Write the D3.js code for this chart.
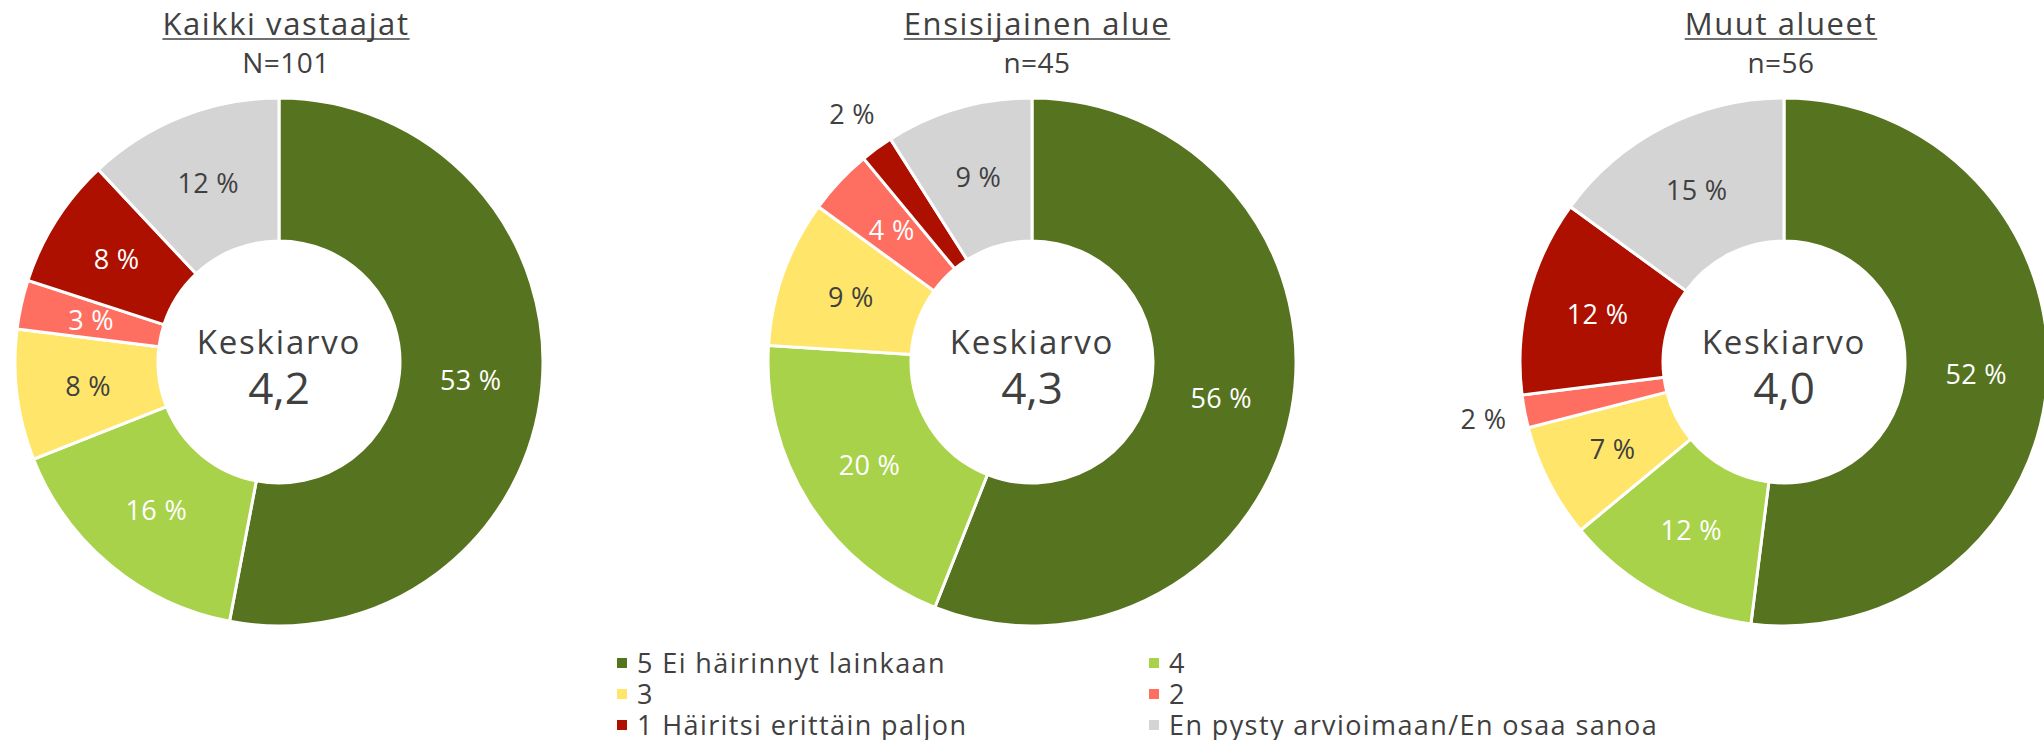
<!DOCTYPE html>
<html>
<head>
<meta charset="utf-8">
<script src="https://cdn.jsdelivr.net/npm/d3@7"></script>
<style>
  html, body { margin: 0; padding: 0; background: #fff; }
  svg { display: block; font-family: "Open Sans", sans-serif; }
</style>
</head>
<body>
<div id="chart"></div>
<script>
// Three donuts (all / primary area / other areas), shared legend underneath.

const categories = ['5 Ei häirinnyt lainkaan', '4', '3', '2', '1 Häiritsi erittäin paljon', 'En pysty arvioimaan/En osaa sanoa'];
const groups = ['Kaikki vastaajat', 'Ensisijainen alue', 'Muut alueet'];
const groupN = ['N=101', 'n=45', 'n=56'];
const means = ['4,2', '4,3', '4,0'];
const sharesAll = [53, 16, 8, 3, 8, 12];
const sharesPrimary = [56, 20, 9, 4, 2, 9];
const sharesOther = [52, 12, 7, 2, 12, 15];

const COLORS = ['#567320', '#a8d24a', '#ffe66b', '#ff6f61', '#ae1000', '#d4d4d4'];
const LABEL_INK = ['#fff', '#fff', '#404040', '#fff', '#fff', '#404040'];
const INK = '#404040';

const W = 2044, H = 740;
const cy = 362, rOuter = 264, rInner = 121;
const centers = [279, 1032, 1784];
const headX = [286, 1037, 1781];

const svg = d3.select('#chart').append('svg').attr('width', W).attr('height', H);

const pie = d3.pie().sort(null).value((d) => d);
const arc = d3.arc().innerRadius(rInner).outerRadius(rOuter);
const mid = d3.arc().innerRadius((rInner + rOuter) / 2).outerRadius((rInner + rOuter) / 2);
const out = d3.arc().innerRadius(rOuter + 42).outerRadius(rOuter + 42);

[sharesAll, sharesPrimary, sharesOther].forEach((shares, gi) => {
  const g = svg.append('g').attr('transform', `translate(${centers[gi]},${cy})`);
  const slices = pie(shares);

  g.selectAll('path').data(slices).join('path')
    .attr('d', arc)
    .attr('fill', (d, i) => COLORS[i])
    .attr('stroke', '#fff').attr('stroke-width', 3);

  // slice labels: tiny slices sit outside the ring
  g.selectAll('text.lbl').data(slices).join('text').attr('class', 'lbl')
    .attr('transform', (d) => `translate(${(d.data <= 2 ? out : mid).centroid(d)})`)
    .attr('text-anchor', 'middle').attr('dy', '0.36em')
    .style('font-size', '27px').style('letter-spacing', '0.3px')
    .style('fill', (d, i) => d.data <= 2 ? INK : LABEL_INK[i])
    .text((d) => `${d.data} %`);

  // mean in the hole
  g.append('text').attr('y', -8).attr('text-anchor', 'middle')
    .style('font-size', '33px').style('letter-spacing', '1.8px')
    .style('fill', INK).text('Keskiarvo');
  g.append('text').attr('y', 42).attr('text-anchor', 'middle')
    .style('font-size', '44px').style('fill', INK).text(means[gi]);

  // heading, underlined
  const t = svg.append('text').attr('x', headX[gi]).attr('y', 35).attr('text-anchor', 'middle')
    .style('font-size', '31px').style('letter-spacing', '1.6px')
    .style('fill', INK).text(groups[gi]);
  const tw = t.node().getComputedTextLength();
  svg.append('line')
    .attr('x1', headX[gi] - tw / 2).attr('x2', headX[gi] + tw / 2)
    .attr('y1', 39).attr('y2', 39)
    .style('stroke', INK).attr('stroke-width', 1.5);
  svg.append('text').attr('x', headX[gi]).attr('y', 73).attr('text-anchor', 'middle')
    .style('font-size', '28px').style('letter-spacing', '0.5px')
    .style('fill', INK).text(groupN[gi]);
});

// legend: two columns, filled row by row
const legX = [617, 1149], legY0 = 663, legStep = 31;
const leg = svg.append('g').selectAll('g').data(categories).join('g')
  .attr('transform', (d, i) => `translate(${legX[i % 2]},${legY0 + Math.floor(i / 2) * legStep})`);
leg.append('rect').attr('x', 0).attr('y', -5).attr('width', 10).attr('height', 10)
  .attr('fill', (d, i) => COLORS[i]);
leg.append('text').attr('x', 20).attr('dy', '0.36em')
  .style('font-size', '27px').style('letter-spacing', '1.4px')
  .style('fill', INK).text((d) => d);
</script>
</body>
</html>
